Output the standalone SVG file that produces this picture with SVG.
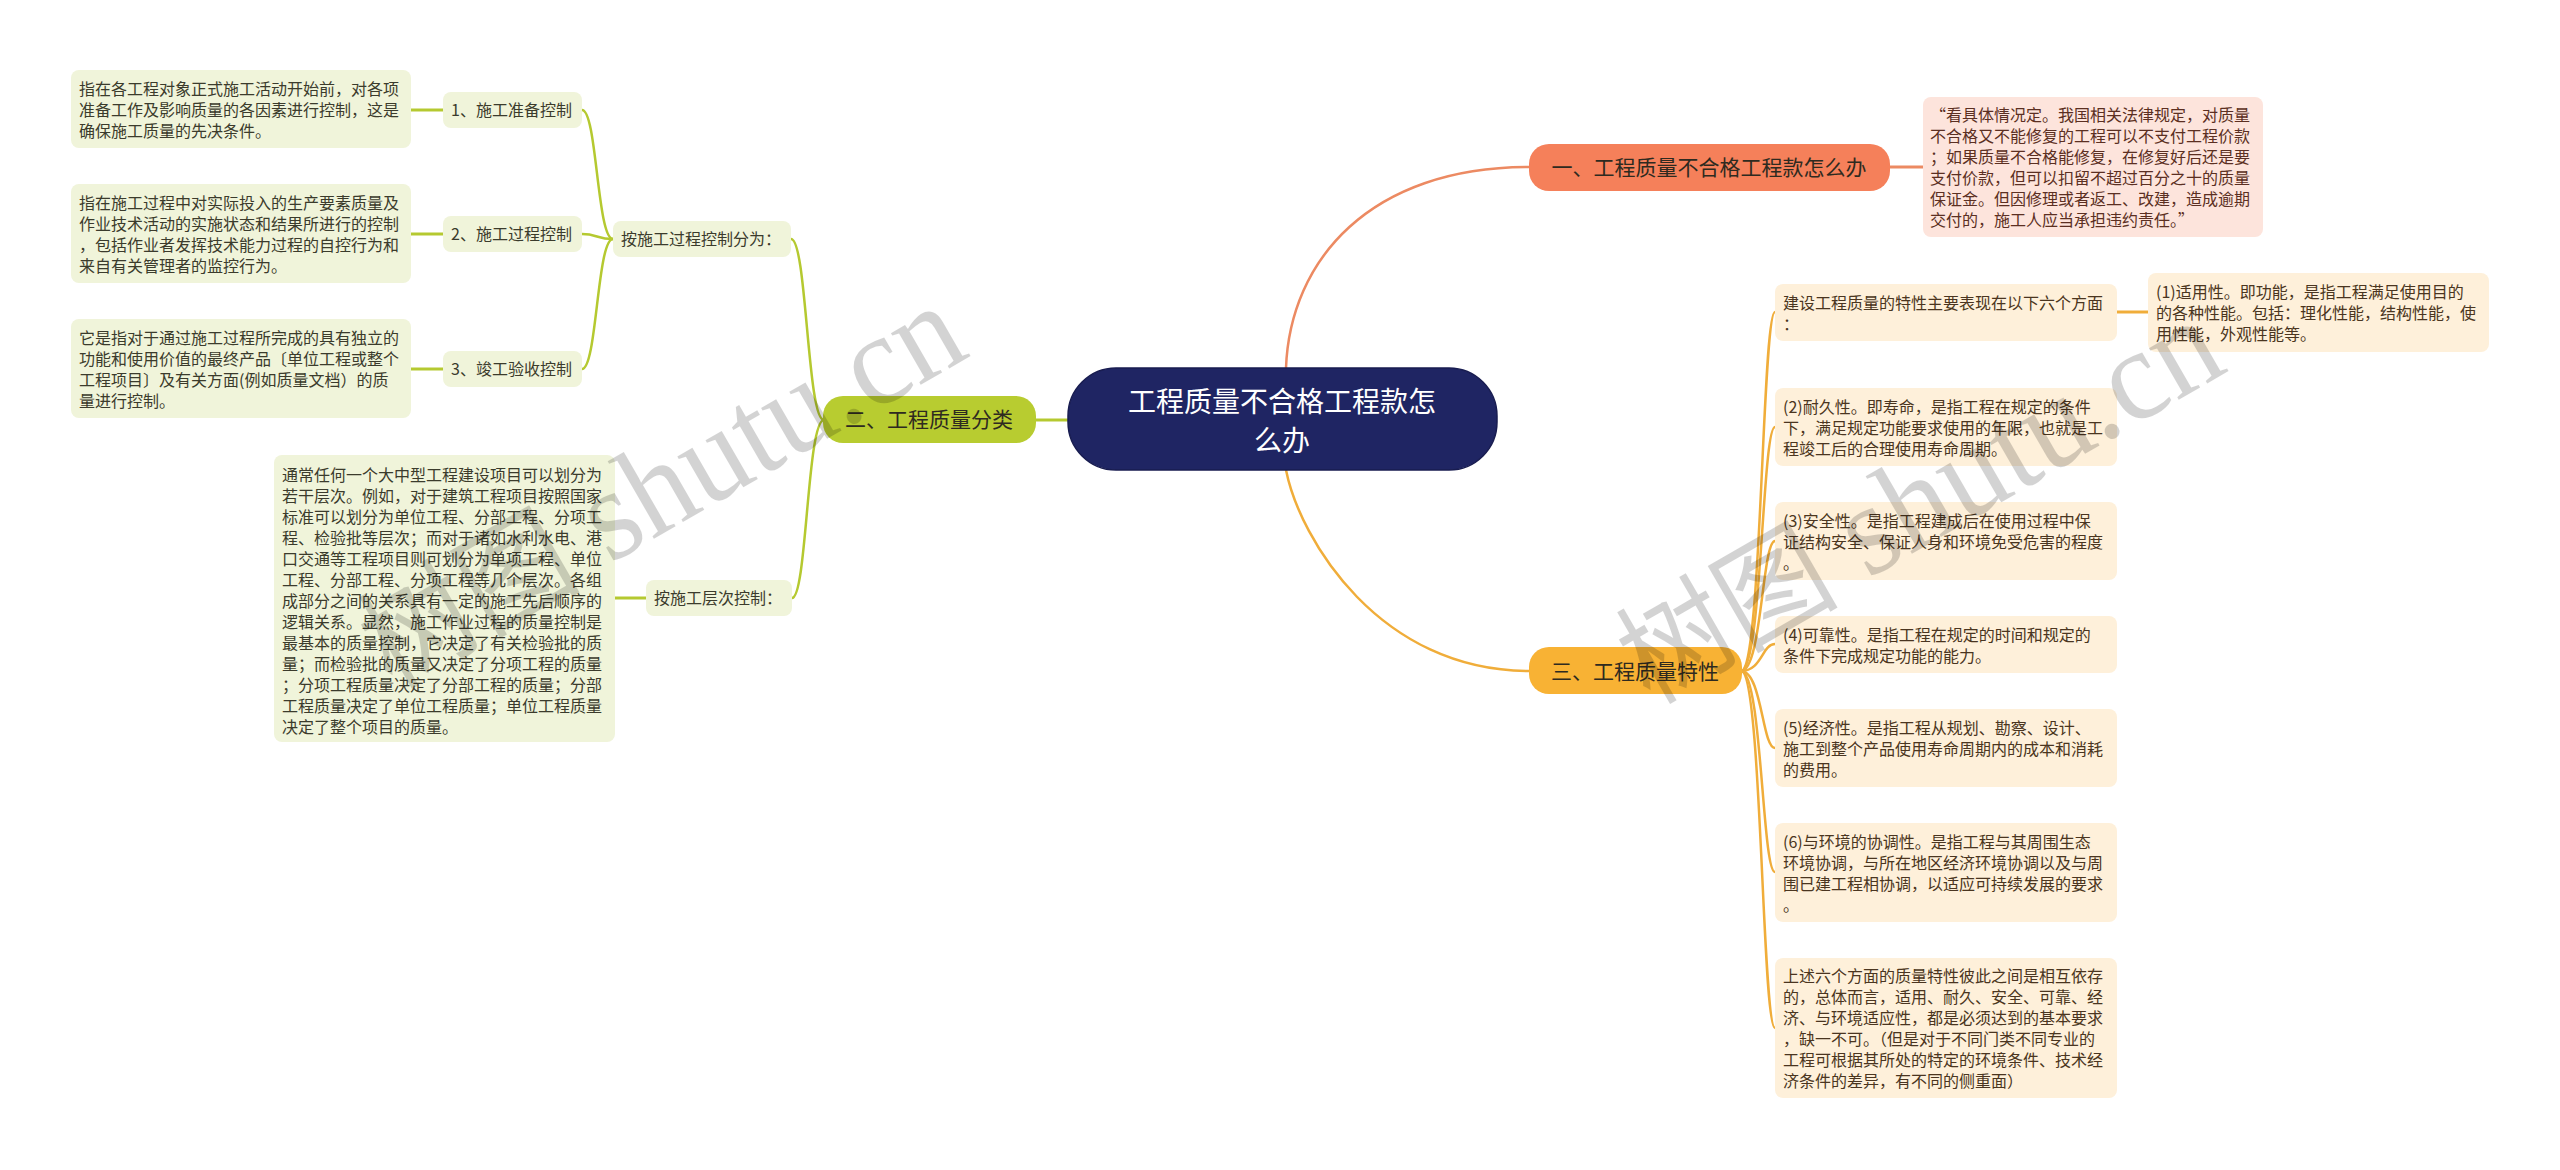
<svg xmlns="http://www.w3.org/2000/svg" width="2560" height="1170" viewBox="0 0 2560 1170">
<style>
text{font-family:"Noto Sans CJK SC","Liberation Sans",sans-serif}
.g{fill:#f0f4da}
.gt{font-size:16px;fill:#3b3b2c}
.o{fill:#fef0da}
.ot{font-size:16px;fill:#4a3520}
.p{fill:#fde4dc}
.pt{font-size:16px;fill:#5b2f22}
.bt{font-size:21px;fill:#2e2a20;text-anchor:middle}
.ct{font-size:28px;fill:#ffffff;text-anchor:middle}
.lg{fill:none;stroke:#b5c930;stroke-width:2.5}
.lo{fill:none;stroke:#f0ad3a;stroke-width:2.5}
.lr{fill:none;stroke:#ec8a62;stroke-width:2.5}
.wm{font-family:"Liberation Serif","Noto Sans CJK SC",serif;font-size:130px;fill:#000;opacity:0.17}
.wc{font-family:"Noto Sans CJK SC",serif;font-size:115px}
</style>
<rect width="2560" height="1170" fill="#ffffff"/>

<g id="connectors">
  <path class="lr" d="M1286 368 C1290 260 1370 167 1529 167"/>
  <path class="lo" d="M1286 470 C1300 540 1380 671 1529 671"/>
  <path class="lg" d="M1068 420 H1036" style="stroke-width:3"/>
  <path class="lr" d="M1890 167 H1923" style="stroke-width:3"/>
  <path class="lg" d="M824 420 C807 420 807 239 791 239"/>
  <path class="lg" d="M824 420 C807 420 807 598 792 598"/>
  <path class="lg" d="M613 239 C597 239 597 110 582 110"/>
  <path class="lg" d="M613 239 C597 239 597 234 582 234"/>
  <path class="lg" d="M613 239 C597 239 597 369 582 369"/>
  <path class="lg" d="M443 110 H411" style="stroke-width:3"/>
  <path class="lg" d="M443 234 H411" style="stroke-width:3"/>
  <path class="lg" d="M443 369 H411" style="stroke-width:3"/>
  <path class="lg" d="M646 598 H615" style="stroke-width:3"/>
  <path class="lo" d="M1741 671 C1762 671 1762 312 1775 312"/>
  <path class="lo" d="M1741 671 C1762 671 1762 427 1775 427"/>
  <path class="lo" d="M1741 671 C1762 671 1762 541 1775 541"/>
  <path class="lo" d="M1741 671 C1762 671 1762 644 1775 644"/>
  <path class="lo" d="M1741 671 C1762 671 1762 748 1775 748"/>
  <path class="lo" d="M1741 671 C1762 671 1762 872 1775 872"/>
  <path class="lo" d="M1741 671 C1762 671 1762 1028 1775 1028"/>
  <path class="lo" d="M2117 312 H2148" style="stroke-width:3"/>
</g>

<g id="center">
  <rect x="1068" y="368" width="429" height="102" rx="48" fill="#1f2563" stroke="#181c50" stroke-width="1.5"/>
  <text class="ct" x="1282" y="412">工程质量不合格工程款怎</text>
  <text class="ct" x="1282" y="451">么办</text>
</g>

<g id="branch1">
  <rect x="1529" y="144" width="361" height="47" rx="20" fill="#f5805a"/>
  <text class="bt" x="1709" y="175">一、工程质量不合格工程款怎么办</text>
</g>
<g id="branch2">
  <rect x="823" y="396" width="213" height="47" rx="20" fill="#b8cc30"/>
  <text class="bt" x="929" y="427">二、工程质量分类</text>
</g>
<g id="branch3">
  <rect x="1529" y="647" width="213" height="47" rx="20" fill="#f8b234"/>
  <text class="bt" x="1635" y="679">三、工程质量特性</text>
</g>

<g id="leaf-pink">
  <rect class="p" x="1923" y="97" width="340" height="140" rx="8"/>
  <text class="pt" x="1930" y="121">“看具体情况定。我国相关法律规定，对质量</text>
  <text class="pt" x="1930" y="142">不合格又不能修复的工程可以不支付工程价款</text>
  <text class="pt" x="1930" y="163">；如果质量不合格能修复，在修复好后还是要</text>
  <text class="pt" x="1930" y="184">支付价款，但可以扣留不超过百分之十的质量</text>
  <text class="pt" x="1930" y="205">保证金。但因修理或者返工、改建，造成逾期</text>
  <text class="pt" x="1930" y="226">交付的，施工人应当承担违约责任。”</text>
</g>

<g id="by-process">
  <rect class="g" x="613" y="221" width="178" height="36" rx="8"/>
  <text class="gt" x="621" y="245">按施工过程控制分为：</text>
</g>
<g id="by-level">
  <rect class="g" x="646" y="580" width="146" height="36" rx="8"/>
  <text class="gt" x="654" y="604">按施工层次控制：</text>
</g>
<g id="label1">
  <rect class="g" x="443" y="92" width="139" height="36" rx="8"/>
  <text class="gt" x="451" y="116">1、施工准备控制</text>
</g>
<g id="label2">
  <rect class="g" x="443" y="216" width="139" height="36" rx="8"/>
  <text class="gt" x="451" y="240">2、施工过程控制</text>
</g>
<g id="label3">
  <rect class="g" x="443" y="351" width="139" height="36" rx="8"/>
  <text class="gt" x="451" y="375">3、竣工验收控制</text>
</g>

<g id="leafA">
  <rect class="g" x="71" y="70" width="340" height="78" rx="8"/>
  <text class="gt" x="79" y="95">指在各工程对象正式施工活动开始前，对各项</text>
  <text class="gt" x="79" y="116">准备工作及影响质量的各因素进行控制，这是</text>
  <text class="gt" x="79" y="137">确保施工质量的先决条件。</text>
</g>
<g id="leafB">
  <rect class="g" x="71" y="184" width="340" height="99" rx="8"/>
  <text class="gt" x="79" y="209">指在施工过程中对实际投入的生产要素质量及</text>
  <text class="gt" x="79" y="230">作业技术活动的实施状态和结果所进行的控制</text>
  <text class="gt" x="79" y="251">，包括作业者发挥技术能力过程的自控行为和</text>
  <text class="gt" x="79" y="272">来自有关管理者的监控行为。</text>
</g>
<g id="leafC">
  <rect class="g" x="71" y="319" width="340" height="99" rx="8"/>
  <text class="gt" x="79" y="344">它是指对于通过施工过程所完成的具有独立的</text>
  <text class="gt" x="79" y="365">功能和使用价值的最终产品〔单位工程或整个</text>
  <text class="gt" x="79" y="386">工程项目〕及有关方面(例如质量文档）的质</text>
  <text class="gt" x="79" y="407">量进行控制。</text>
</g>
<g id="leafD">
  <rect class="g" x="274" y="455" width="341" height="287" rx="8"/>
  <text class="gt" x="282" y="481">通常任何一个大中型工程建设项目可以划分为</text>
  <text class="gt" x="282" y="502">若干层次。例如，对于建筑工程项目按照国家</text>
  <text class="gt" x="282" y="523">标准可以划分为单位工程、分部工程、分项工</text>
  <text class="gt" x="282" y="544">程、检验批等层次；而对于诸如水利水电、港</text>
  <text class="gt" x="282" y="565">口交通等工程项目则可划分为单项工程、单位</text>
  <text class="gt" x="282" y="586">工程、分部工程、分项工程等几个层次。各组</text>
  <text class="gt" x="282" y="607">成部分之间的关系具有一定的施工先后顺序的</text>
  <text class="gt" x="282" y="628">逻辑关系。显然，施工作业过程的质量控制是</text>
  <text class="gt" x="282" y="649">最基本的质量控制，它决定了有关检验批的质</text>
  <text class="gt" x="282" y="670">量；而检验批的质量又决定了分项工程的质量</text>
  <text class="gt" x="282" y="691">；分项工程质量决定了分部工程的质量；分部</text>
  <text class="gt" x="282" y="712">工程质量决定了单位工程质量；单位工程质量</text>
  <text class="gt" x="282" y="733">决定了整个项目的质量。</text>
</g>

<g id="r-intro">
  <rect class="o" x="1775" y="284" width="342" height="57" rx="8"/>
  <text class="ot" x="1783" y="309">建设工程质量的特性主要表现在以下六个方面</text>
  <text class="ot" x="1783" y="330">：</text>
</g>
<g id="r1">
  <rect class="o" x="2148" y="273" width="341" height="79" rx="8"/>
  <text class="ot" x="2156" y="298">(1)适用性。即功能，是指工程满足使用目的</text>
  <text class="ot" x="2156" y="319">的各种性能。包括：理化性能，结构性能，使</text>
  <text class="ot" x="2156" y="340">用性能，外观性能等。</text>
</g>
<g id="r2">
  <rect class="o" x="1775" y="388" width="342" height="78" rx="8"/>
  <text class="ot" x="1783" y="413">(2)耐久性。即寿命，是指工程在规定的条件</text>
  <text class="ot" x="1783" y="434">下，满足规定功能要求使用的年限，也就是工</text>
  <text class="ot" x="1783" y="455">程竣工后的合理使用寿命周期。</text>
</g>
<g id="r3">
  <rect class="o" x="1775" y="502" width="342" height="78" rx="8"/>
  <text class="ot" x="1783" y="527">(3)安全性。是指工程建成后在使用过程中保</text>
  <text class="ot" x="1783" y="548">证结构安全、保证人身和环境免受危害的程度</text>
  <text class="ot" x="1783" y="569">。</text>
</g>
<g id="r4">
  <rect class="o" x="1775" y="616" width="342" height="57" rx="8"/>
  <text class="ot" x="1783" y="641">(4)可靠性。是指工程在规定的时间和规定的</text>
  <text class="ot" x="1783" y="662">条件下完成规定功能的能力。</text>
</g>
<g id="r5">
  <rect class="o" x="1775" y="709" width="342" height="78" rx="8"/>
  <text class="ot" x="1783" y="734">(5)经济性。是指工程从规划、勘察、设计、</text>
  <text class="ot" x="1783" y="755">施工到整个产品使用寿命周期内的成本和消耗</text>
  <text class="ot" x="1783" y="776">的费用。</text>
</g>
<g id="r6">
  <rect class="o" x="1775" y="823" width="342" height="99" rx="8"/>
  <text class="ot" x="1783" y="848">(6)与环境的协调性。是指工程与其周围生态</text>
  <text class="ot" x="1783" y="869">环境协调，与所在地区经济环境协调以及与周</text>
  <text class="ot" x="1783" y="890">围已建工程相协调，以适应可持续发展的要求</text>
  <text class="ot" x="1783" y="911">。</text>
</g>
<g id="r7">
  <rect class="o" x="1775" y="958" width="342" height="140" rx="8"/>
  <text class="ot" x="1783" y="982">上述六个方面的质量特性彼此之间是相互依存</text>
  <text class="ot" x="1783" y="1003">的，总体而言，适用、耐久、安全、可靠、经</text>
  <text class="ot" x="1783" y="1024">济、与环境适应性，都是必须达到的基本要求</text>
  <text class="ot" x="1783" y="1045">，缺一不可。（但是对于不同门类不同专业的</text>
  <text class="ot" x="1783" y="1066">工程可根据其所处的特定的环境条件、技术经</text>
  <text class="ot" x="1783" y="1087">济条件的差异，有不同的侧重面）</text>
</g>

<g id="watermarks">
  <text class="wm" x="392" y="690" transform="rotate(-30 392 690)" textLength="670" lengthAdjust="spacingAndGlyphs"><tspan class="wc">树图</tspan> shutu.cn</text>
  <text class="wm" x="1650" y="705" transform="rotate(-30 1650 705)" textLength="670" lengthAdjust="spacingAndGlyphs"><tspan class="wc">树图</tspan> shutu.cn</text>
</g>
</svg>
